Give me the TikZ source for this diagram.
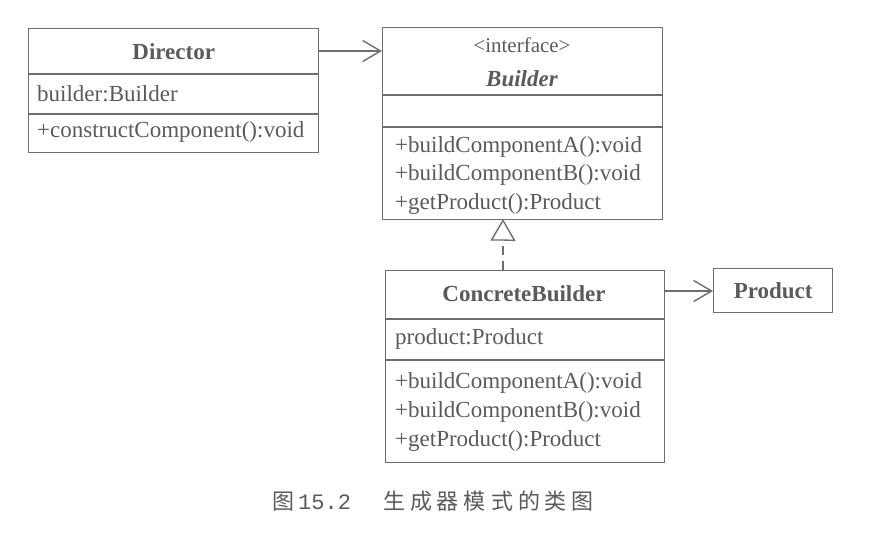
\documentclass[tikz,border=0pt]{standalone}
\usepackage{fontspec}
\setmainfont{Liberation Serif}
\newfontfamily\cjk{Noto Sans CJK SC}
\newfontfamily\capmono{Liberation Mono}
\usetikzlibrary{arrows.meta,positioning}
\definecolor{ln}{HTML}{6E6E6E}
\definecolor{tx}{HTML}{5A5A5A}
\tikzset{
  cls/.style={draw=ln, line width=1.4pt, inner sep=0pt, anchor=north west},
  div/.style={draw=ln, line width=1.4pt},
  mem/.style={anchor=west, inner sep=0pt, text=tx, font=\fontsize{23}{29}\selectfont},
  ttl/.style={inner sep=0pt, text=tx, font=\fontsize{23}{29}\selectfont\bfseries},
  assoc/.style={draw=ln, line width=1.4pt, -{Straight Barb[length=18pt,width=21pt,line width=1.4pt]}},
  real/.style={draw=ln, line width=1.4pt, dash pattern=on 9pt off 6pt},
  realtip/.style={draw=ln, line width=1.4pt, fill=white},
}
\begin{document}
\begin{tikzpicture}[x=1pt,y=-1pt]
\useasboundingbox (0,0) rectangle (879,536);
% Director
\node[cls, minimum width=290pt, minimum height=124pt] (dir) at (28,28) {};
\node[cls, draw=none, minimum width=290pt, minimum height=46pt] (dtitle) at (28,28) {};
\node[ttl] (dtt) at (dtitle.center) {Director};
\draw[div] (28,74) -- (318,74);
\draw[div] (28,114) -- (318,114);
\node[mem] (dattr) at (37,94) {builder:Builder};
\node[mem] (dop) at (37,132) {+constructComponent():void};
% Builder
\node[cls, minimum width=280pt, minimum height=192pt] (bld) at (382,27) {};
\node[cls, draw=none, minimum width=280pt, minimum height=68pt] (btitle) at (382,27) {};
\node[inner sep=0pt, text=tx, font=\fontsize{21}{26}\selectfont] (bst) at (522,45) {<interface>};
\node[ttl, font=\fontsize{23}{29}\selectfont\bfseries\itshape] (btt) at (522,79) {Builder};
\draw[div] (382,95) -- (662,95);
\draw[div] (382,127) -- (662,127);
\node[mem] (bm1) at (395,147) {+buildComponentA():void};
\node[mem] (bm2) at (395,175) {+buildComponentB():void};
\node[mem] (bm3) at (395,204) {+getProduct():Product};
% ConcreteBuilder
\node[cls, minimum width=279pt, minimum height=192pt] (cb) at (385,270) {};
\node[cls, draw=none, minimum width=279pt, minimum height=49pt] (cbtitle) at (385,270) {};
\node[ttl] (cbt) at (524,294) {ConcreteBuilder};
\draw[div] (385,319) -- (664,319);
\draw[div] (385,360) -- (664,360);
\node[mem] (cba) at (395,339) {product:Product};
\node[mem] (cm1) at (395,383) {+buildComponentA():void};
\node[mem] (cm2) at (395,412) {+buildComponentB():void};
\node[mem] (cm3) at (395,441) {+getProduct():Product};
% Product
\node[cls, minimum width=119pt, minimum height=44pt] (prod) at (713,268) {};
\node[ttl] (pt) at (prod.center) {Product};
% Connectors
\coordinate (a1) at (dtitle.east |- 0,51);
\draw[assoc] (a1) -- (a1 -| bld.west);
\coordinate (a2) at (cb.east |- 0,291);
\draw[assoc] (a2) -- (a2 -| prod.west);
\coordinate (inh) at (503,270);
\coordinate (tipb) at (503,240);
\draw[real] (inh) -- (tipb);
\draw[realtip] (tipb) -- ++(-11.5,0) -- (inh |- bld.south) -- ++(11.5,20) -- cycle;
% Caption
\node[anchor=west, inner sep=0pt, text=tx, font=\fontsize{22}{27}\selectfont] (cap) at (272,501)
  {{\cjk 图}\hskip 4pt{\capmono 15.2}\hskip 32pt{\cjk 生\hskip5pt 成\hskip5pt 器\hskip5pt 模\hskip5pt 式\hskip5pt 的\hskip5pt 类\hskip5pt 图}};
\end{tikzpicture}
\end{document}
